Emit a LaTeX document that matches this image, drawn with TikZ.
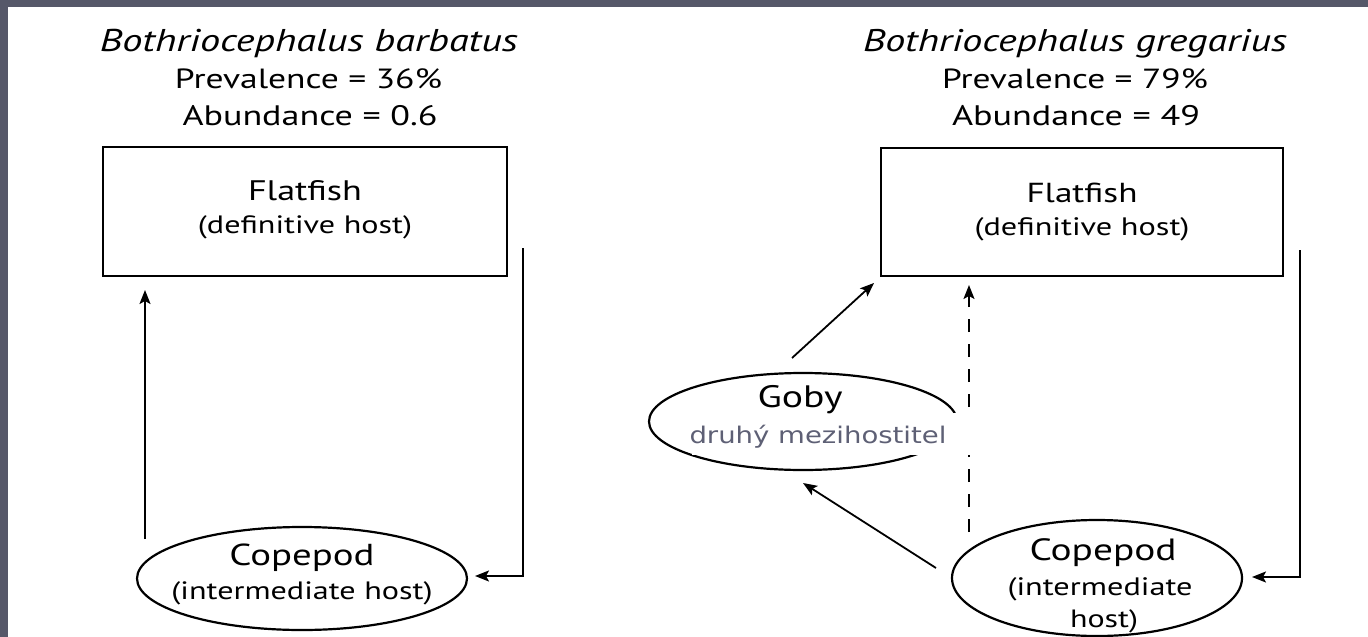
\documentclass[tikz,border=0pt]{standalone}
\usepackage{fontspec}
\usepackage{graphicx}
\setmainfont[FakeStretch=1.28]{PT Sans}
\newfontfamily\czfont[FakeStretch=1.2]{DejaVu Sans}
\usetikzlibrary{shapes.geometric,arrows.meta,calc}
\definecolor{slate}{HTML}{565869}
\definecolor{czgray}{HTML}{5E6075}
\newcommand{\fitw}[2]{\resizebox{#1}{!}{#2}}
\begin{document}
\begin{tikzpicture}[x=1pt,y=-1pt,
  hostbox/.style={draw,line width=2.2pt,rectangle,inner sep=0pt},
  hostell/.style={draw,line width=2.2pt,ellipse,inner sep=0pt},
  arr/.style={line width=1.8pt,-{Stealth[length=14pt,width=11pt,inset=3pt]}},
  ttl/.style={anchor=base,inner sep=0pt,font=\fontsize{31}{36}\selectfont\itshape},
  stat/.style={anchor=base,inner sep=0pt,font=\fontsize{28}{34}\selectfont},
  big/.style={anchor=base,inner sep=0pt,font=\fontsize{30}{34}\selectfont},
  small/.style={anchor=base,inner sep=0pt,font=\fontsize{26}{30}\selectfont},
  cz/.style={anchor=base,inner sep=0pt,text=czgray,font=\fontsize{23}{28}\selectfont\czfont}
]
\useasboundingbox (0,0) rectangle (1368,637);
\fill[white] (0,0) rectangle (1368,637);
\fill[slate] (0,0) rectangle (8,637);
\fill[slate] (0,0) rectangle (1368,7);

% ---------- left panel ----------
\node[ttl]  (ltitle) at (309,52)  {\fitw{418pt}{Bothriocephalus barbatus}};
\node[stat] (lprev)  at (308.5,88) {\fitw{267pt}{Prevalence = 36\%}};
\node[stat] (labund) at (310,125) {\fitw{255pt}{Abundance = 0.6}};
\node[hostbox,minimum width=404pt,minimum height=129pt] (lbox) at (305,211.5) {};
\node[big]   (lflat) at (305,200) {\fitw{114pt}{Flatfish}};
\node[small] (ldef)  at (305,233) {\fitw{214pt}{(definitive host)}};
\node[hostell,minimum width=330pt,minimum height=103pt] (lcop) at (302,578.5) {};
\node[big]   (lcopt)  at (302,565) {\fitw{145pt}{Copepod}};
\node[small] (linter) at (302,599) {\fitw{261pt}{(intermediate host)}};

\coordinate (lupS) at (145,539);
\coordinate (lupE) at (145,290);
\draw[arr] (lupS) -- (lupE);
\coordinate (lretA) at (523,248);
\coordinate (lretB) at (523,576);
\coordinate (lretE) at (475,576);
\draw[arr] (lretA) -- (lretB) -- (lretE);

% ---------- right panel ----------
\node[ttl]  (rtitle) at (1075,52)  {\fitw{424pt}{Bothriocephalus gregarius}};
\node[stat] (rprev)  at (1075,88)  {\fitw{266pt}{Prevalence = 79\%}};
\node[stat] (rabund) at (1076,125) {\fitw{248pt}{Abundance = 49}};
\node[hostbox,minimum width=402pt,minimum height=128pt] (rbox) at (1082,212) {};
\node[big]   (rflat) at (1082,202) {\fitw{111pt}{Flatfish}};
\node[small] (rdef)  at (1082,235) {\fitw{215pt}{(definitive host)}};

\node[hostell,minimum width=308pt,minimum height=97pt] (goby) at (803,421.5) {};
\node[hostell,minimum width=290pt,minimum height=116pt] (rcop) at (1097,578) {};
\node[big]   (rcopt)  at (1103,560) {\fitw{147pt}{Copepod}};
\node[small] (rinter) at (1100,595) {\fitw{185pt}{(intermediate}};
\node[small] (rhost)  at (1104,627) {\fitw{68pt}{host)}};

\coordinate (dashS) at (969,532);
\coordinate (dashE) at (969,285);
\draw[arr,dash pattern=on 13pt off 12pt] (dashS) -- (dashE);

\coordinate (gobyS) at (792,358);
\coordinate (gobyE) at (874,283);
\draw[arr] (gobyS) -- (gobyE);

\coordinate (copS) at (936,568);
\coordinate (copE) at (803,483);
\draw[arr] (copS) -- (copE);

\coordinate (rretA) at (1300,250);
\coordinate (rretB) at (1300,577);
\coordinate (rretE) at (1252,577);
\draw[arr] (rretA) -- (rretB) -- (rretE);

\node[fill=white,inner sep=0pt,minimum width=286pt,minimum height=42pt] (czbg) at (835,434) {};
\node[big] (gobyt) at (800,407) {\fitw{85pt}{Goby}};
\node[cz]  (czt)   at (818,443) {\fitw{257pt}{druhý mezihostitel}};
\end{tikzpicture}
\end{document}
